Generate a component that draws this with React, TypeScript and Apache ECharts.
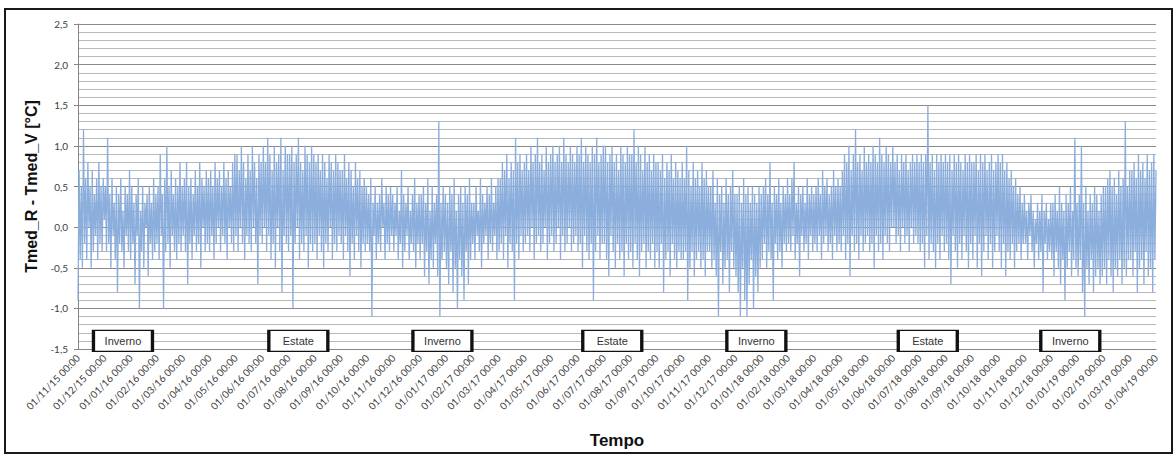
import React, { useEffect, useRef } from "react";
import * as echarts from "echarts";

const tickLabels = [
  "01/11/15 00:00", "01/12/15 00:00", "01/01/16 00:00", "01/02/16 00:00", "01/03/16 00:00",
  "01/04/16 00:00", "01/05/16 00:00", "01/06/16 00:00", "01/07/16 00:00", "01/08/16 00:00",
  "01/09/16 00:00", "01/10/16 00:00", "01/11/16 00:00", "01/12/16 00:00", "01/01/17 00:00",
  "01/02/17 00:00", "01/03/17 00:00", "01/04/17 00:00", "01/05/17 00:00", "01/06/17 00:00",
  "01/07/17 00:00", "01/08/17 00:00", "01/09/17 00:00", "01/10/17 00:00", "01/11/17 00:00",
  "01/12/17 00:00", "01/01/18 00:00", "01/02/18 00:00", "01/03/18 00:00", "01/04/18 00:00",
  "01/05/18 00:00", "01/06/18 00:00", "01/07/18 00:00", "01/08/18 00:00", "01/09/18 00:00",
  "01/10/18 00:00", "01/11/18 00:00", "01/12/18 00:00", "01/01/19 00:00", "01/02/19 00:00",
  "01/03/19 00:00", "01/04/19 00:00",
];

// Tmed_R - Tmed_V [°C], one row per month: Nov 2015 ... Oct 2016
const year1 = [
  [-0.9, 0.7, -0.4, 0.5, -0.5, 1.2, -0.2, 0.6, -0.4, 0.8, 0.0, 0.5, -0.5, 0.7, -0.3, 0.4, -0.1, 0.6, -0.4, 0.8, -0.2, 0.5, -0.3, 0.6],
  [0.1, 0.5, -0.3, 1.1, -0.2, 0.4, -0.5, 0.6, -0.1, 0.3, -0.4, 0.5, -0.8, 0.4, -0.2, 0.6, -0.3, 0.2, -0.5, 0.5, -0.1, 0.4, -0.3, 0.7],
  [-0.4, 0.5, -0.2, 0.3, -0.7, 0.4, -0.1, 0.6, -1.0, 0.2, -0.3, 0.5, -0.5, 0.3, 0.0, 0.4, -0.6, 0.5, -0.2, 0.3, -0.4, 0.6, -0.3, 0.4],
  [-0.2, 0.5, -0.4, 0.9, -0.1, 0.4, -1.0, 0.6, -0.3, 1.0, -0.2, 0.5, -0.5, 0.7, -0.1, 0.4, -0.3, 0.6, -0.4, 0.5, -0.2, 0.8, -0.3, 0.5],
  [-0.1, 0.6, -0.3, 0.8, -0.7, 0.5, -0.2, 0.6, -0.4, 0.4, -0.1, 0.7, -0.3, 0.5, -0.2, 0.8, -0.5, 0.6, 0.0, 0.5, -0.3, 0.7, -0.2, 0.6],
  [-0.3, 0.7, -0.1, 0.5, -0.4, 0.8, -0.2, 0.6, 0.0, 0.7, -0.3, 0.5, -0.1, 0.8, -0.2, 0.6, -0.4, 0.7, 0.0, 0.5, -0.2, 0.8, -0.3, 0.9],
  [-0.1, 0.9, -0.3, 0.7, 0.0, 1.0, -0.2, 0.8, -0.4, 0.6, -0.1, 0.9, -0.2, 0.7, -0.3, 1.0, 0.0, 0.8, -0.2, 0.6, -0.7, 0.9, -0.1, 0.8],
  [-0.2, 1.0, 0.0, 0.8, -0.3, 1.1, -0.1, 0.9, -0.4, 0.7, -0.2, 1.0, -0.5, 0.8, 0.0, 0.9, -0.3, 1.1, -0.8, 0.7, -0.1, 1.0, -0.2, 0.9],
  [-0.3, 0.9, -0.1, 1.0, -1.0, 0.8, -0.2, 0.9, 0.0, 1.1, -0.4, 0.8, -0.2, 0.7, -0.3, 1.0, -0.1, 0.9, -0.5, 0.8, -0.2, 1.0, -0.3, 0.9],
  [-0.2, 0.8, -0.4, 0.9, -0.1, 0.7, -0.3, 0.9, -0.5, 0.8, -0.2, 0.6, -0.3, 0.9, 0.0, 0.8, -0.4, 0.7, -0.2, 0.9, -0.3, 0.8, -0.1, 0.7],
  [-0.2, 0.7, -0.4, 0.9, -0.1, 0.6, -0.3, 0.8, -0.6, 0.7, -0.2, 0.5, -0.4, 0.8, -0.1, 0.6, -0.3, 0.7, -0.5, 0.5, -0.2, 0.6, -0.3, 0.5],
  [-0.2, 0.4, -0.3, 0.6, -1.1, 0.3, -0.1, 0.5, -0.4, 0.3, -0.2, 0.4, -0.3, 0.6, 0.0, 0.3, -0.4, 0.5, -0.2, 0.4, -0.3, 0.5, -0.1, 0.4],
];

// Nov 2016 ... Oct 2017
const year2 = [
  [-0.3, 0.3, -0.1, 0.5, -0.4, 0.2, -0.2, 0.7, -0.5, 0.4, -0.3, 0.3, -0.1, 0.5, -0.4, 0.2, -0.2, 0.4, -0.3, 0.6, -0.5, 0.3, -0.2, 0.4],
  [-0.4, 0.4, -0.2, 0.5, -0.6, 0.3, -0.3, 0.6, -0.7, 0.2, -0.4, 0.5, -0.5, 0.3, -0.2, 0.4, -0.6, 1.3, -1.1, 0.3, -0.4, 0.5, -0.3, 0.4],
  [-0.5, 0.3, -0.7, 0.5, -0.3, 0.4, -0.8, 0.6, -0.5, 0.2, -1.0, 0.4, -0.4, 0.5, -0.6, 0.3, -0.9, 0.5, -0.3, 0.4, -0.7, 0.6, -0.4, 0.3],
  [-0.2, 0.3, -0.4, 0.5, -0.1, 0.2, -0.3, 0.6, -0.5, 0.4, -0.2, 0.3, -0.1, 0.5, -0.4, 0.4, -0.2, 0.6, -0.3, 0.3, -0.1, 0.5, -0.4, 0.6],
  [-0.3, 0.6, -0.2, 0.8, -0.4, 0.7, -0.1, 0.9, -0.5, 0.6, -0.2, 0.8, -0.3, 0.7, -0.9, 1.1, -0.2, 0.8, -0.4, 0.9, -0.1, 0.7, -0.3, 0.8],
  [-0.2, 0.9, -0.1, 0.7, -0.3, 1.0, 0.0, 0.8, -0.4, 0.9, -0.2, 1.1, -0.1, 0.8, -0.3, 0.9, -0.2, 0.7, 0.0, 1.0, -0.4, 0.8, -0.2, 0.9],
  [-0.1, 1.0, -0.3, 0.8, -0.2, 0.9, 0.0, 1.0, -0.4, 0.8, -0.1, 1.1, -0.3, 0.9, -0.2, 0.8, 0.0, 1.0, -0.3, 0.9, -0.2, 0.8, -0.1, 1.0],
  [-0.3, 0.9, -0.2, 1.1, -0.5, 0.8, -0.1, 1.0, -0.3, 0.9, -0.4, 0.8, -0.2, 1.0, -0.9, 0.9, -0.3, 1.1, -0.1, 0.8, -0.4, 0.9, -0.2, 1.0],
  [-0.2, 1.0, -0.4, 0.8, -0.6, 0.9, -0.1, 1.0, -0.3, 0.8, -0.5, 0.9, -0.2, 0.7, -0.4, 1.0, -0.3, 0.9, -0.6, 0.8, -0.2, 1.0, -0.4, 0.9],
  [-0.3, 0.9, -0.5, 1.2, -0.2, 0.8, -0.4, 1.0, -0.6, 0.9, -0.3, 0.7, -0.2, 1.0, -0.5, 0.8, -0.3, 0.9, -0.4, 0.7, -0.2, 0.9, -0.5, 0.8],
  [-0.3, 0.8, -0.5, 0.7, -0.2, 0.9, -0.8, 0.6, -0.4, 0.8, -0.3, 0.7, -0.6, 0.9, -0.2, 0.6, -0.4, 0.8, -0.5, 0.7, -0.3, 0.6, -0.4, 0.8],
  [-0.4, 0.6, -0.3, 1.0, -0.9, 0.7, -0.5, 0.5, -0.3, 0.8, -0.6, 0.6, -0.4, 0.7, -0.3, 0.5, -0.5, 0.8, -0.4, 0.6, -0.6, 0.7, -0.3, 0.5],
];

// Nov 2017 ... Oct 2018
const year3 = [
  [-0.3, 0.5, -0.5, 0.7, -0.4, 0.3, -0.6, 0.6, -1.1, 0.4, -0.3, 0.5, -0.7, 0.3, -0.5, 0.6, -0.4, 0.4, -0.8, 0.5, -0.3, 0.7, -0.5, 0.4],
  [-0.6, 0.4, -0.8, 0.5, -1.1, 0.3, -0.5, 0.6, -0.9, 0.4, -1.1, 0.5, -0.7, 0.3, -0.4, 0.5, -1.0, 0.4, -0.6, 0.3, -0.8, 0.5, -0.5, 0.4],
  [-0.4, 0.5, -0.2, 0.6, -0.5, 0.4, -0.3, 0.8, -0.4, 0.3, -0.9, 0.5, -0.2, 0.4, -0.4, 0.6, -0.3, 0.3, -0.5, 0.5, -0.2, 0.4, -0.3, 0.6],
  [-0.2, 0.4, -0.3, 0.6, -0.1, 0.8, -0.4, 0.3, -0.2, 0.5, -0.6, 0.4, -0.1, 0.5, -0.3, 0.3, -0.2, 0.6, -0.4, 0.4, -0.1, 0.5, -0.3, 0.4],
  [-0.2, 0.5, -0.3, 0.6, -0.1, 0.4, -0.4, 0.7, -0.2, 0.5, -0.1, 0.6, -0.3, 0.4, -0.2, 0.5, -0.4, 0.7, -0.1, 0.5, -0.3, 0.6, -0.2, 0.5],
  [-0.3, 0.7, -0.1, 0.9, -0.4, 0.8, -0.2, 1.0, -0.6, 0.7, -0.1, 0.9, -0.3, 1.2, -0.2, 0.8, -0.4, 0.9, -0.1, 0.7, -0.3, 1.0, -0.2, 0.8],
  [-0.1, 0.9, -0.3, 0.8, -0.2, 1.0, -0.5, 0.9, -0.1, 0.8, -0.3, 1.1, -0.2, 0.9, -0.4, 0.8, -0.1, 1.0, -0.2, 0.9, -0.3, 0.8, 0.0, 1.0],
  [0.0, 0.8, -0.2, 0.9, -0.1, 0.7, -0.3, 0.9, 0.0, 0.8, -0.2, 0.9, -0.1, 0.7, -0.3, 0.8, 0.0, 0.9, -0.2, 0.8, -0.1, 0.9, -0.2, 0.8],
  [-0.3, 0.9, -0.2, 0.8, -0.5, 0.9, -0.1, 1.5, -0.4, 0.8, -0.2, 0.9, -0.3, 0.7, -0.5, 0.9, -0.2, 0.8, -0.4, 0.9, -0.1, 0.8, -0.3, 0.9],
  [-0.2, 0.8, -0.4, 0.9, -0.7, 0.7, -0.1, 0.9, -0.3, 0.8, -0.5, 0.9, -0.2, 0.8, -0.4, 0.7, -0.1, 0.9, -0.3, 0.8, -0.5, 0.9, -0.2, 0.8],
  [-0.4, 0.8, -0.1, 0.9, -0.5, 0.7, -0.2, 0.9, -0.6, 0.8, -0.3, 0.9, -0.1, 0.7, -0.4, 0.8, -0.2, 0.9, -0.5, 0.7, -0.3, 0.8, -0.1, 0.9],
  [-0.3, 0.8, -0.5, 0.9, -0.2, 0.7, -0.6, 0.8, -0.3, 0.6, -0.4, 0.7, -0.2, 0.5, -0.5, 0.6, -0.3, 0.4, -0.2, 0.5, -0.4, 0.3, -0.2, 0.4],
];

// Nov 2018 ... Mar 2019
const year4 = [
  [-0.2, 0.2, -0.4, 0.3, -0.1, 0.4, -0.3, 0.2, -0.5, 0.1, -0.2, 0.3, -0.4, 0.2, -0.3, 0.4, -0.8, 0.2, -0.2, 0.3, -0.4, 0.1, -0.3, 0.3],
  [-0.4, 0.3, -0.6, 0.4, -0.3, 0.2, -0.5, 0.5, -0.7, 0.3, -0.4, 0.2, -0.9, 0.4, -0.5, 0.3, -0.3, 0.5, -0.6, 0.2, -0.4, 1.1, -0.5, 0.3],
  [-0.6, 0.4, -0.4, 1.0, -0.8, 0.3, -1.1, 0.5, -0.5, 0.2, -0.7, 0.4, -0.4, 0.3, -0.8, 0.5, -0.6, 0.4, -0.5, 0.2, -0.7, 0.4, -0.6, 0.5],
  [-0.5, 0.5, -0.7, 0.6, -0.4, 0.7, -0.6, 0.5, -0.8, 0.6, -0.5, 0.4, -0.6, 0.7, -0.4, 0.5, -0.7, 0.6, -0.5, 1.3, -0.6, 0.5, -0.4, 0.7],
  [-0.4, 0.7, -0.6, 0.8, -0.3, 0.6, -0.8, 0.9, -0.5, 0.7, -0.4, 0.8, -0.7, 0.6, -0.3, 0.9, -0.6, 0.7, -0.5, 0.8, -0.8, 0.9, -0.4, 0.7],
];

const seasonNames = ["Inverno", "Estate", "Inverno", "Estate", "Inverno", "Estate", "Inverno"];
const seasonMonthPos = [1.71, 8.38, 13.86, 20.32, 25.8, 32.32, 37.74];
const seasonLevel = -1.4;

const fmtComma = (v: number) => v.toFixed(1).replace(".", ",");

export default function App() {
  const ref = useRef<HTMLDivElement>(null);

  useEffect(() => {
    document.body.style.margin = "0";
    if (!ref.current) return;
    const chart = echarts.init(ref.current, undefined, { renderer: "svg" });

    const months = [...year1, ...year2, ...year3, ...year4];
    const perMonth = months[0].length;
    const total = months.length * perMonth;
    const span = months.length;
    const lineData: number[][] = [];
    months.forEach((row, m) => {
      row.forEach((v, i) => {
        const k = m * perMonth + i;
        lineData.push([(k * span) / (total - 1), v]);
      });
    });

    const boxData = seasonNames.map((n, i) => ({ name: n, value: [seasonMonthPos[i], seasonLevel] }));

    chart.setOption({
      animation: false,
      backgroundColor: "#ffffff",
      grid: { left: 78, right: 20, top: 24, bottom: 108, containLabel: false },
      xAxis: {
        type: "value",
        min: 0,
        max: tickLabels.length - 1,
        interval: 1,
        name: "Tempo",
        nameLocation: "middle",
        nameGap: 83,
        nameTextStyle: { fontFamily: "Liberation Sans", fontWeight: "bold", fontSize: 17, color: "#111" },
        axisLine: { show: true, onZero: false, lineStyle: { color: "#868686" } },
        axisTick: { show: false },
        splitLine: { show: false },
        axisLabel: {
          rotate: 46,
          fontSize: 10,
          fontFamily: "Lato",
          color: "#404040",
          margin: 7,
          formatter: (v: number) => tickLabels[Math.round(v)] ?? "",
        },
      },
      yAxis: {
        type: "value",
        min: -1.5,
        max: 2.5,
        interval: 0.5,
        name: "Tmed_R - Tmed_V [°C]",
        nameLocation: "middle",
        nameGap: 34,
        nameTextStyle: { fontFamily: "Liberation Sans", fontWeight: "bold", fontSize: 16, color: "#111" },
        axisLine: { show: true, lineStyle: { color: "#868686" } },
        axisTick: { show: true, length: 4, lineStyle: { color: "#868686" } },
        axisLabel: {
          fontSize: 10,
          fontFamily: "Lato",
          color: "#404040",
          margin: 10,
          formatter: (v: number) => fmtComma(v),
        },
        splitLine: { show: true, lineStyle: { color: "#8a8a8a", width: 1 } },
        minorTick: { show: false, splitNumber: 5 },
        minorSplitLine: { show: true, lineStyle: { color: "#b8b8b8", width: 1 } },
      },
      series: [
        {
          type: "line",
          data: lineData,
          symbol: "none",
          lineStyle: { color: "#8caedc", width: 1.3 },
          z: 2,
        },
        {
          type: "scatter",
          data: boxData,
          symbol: "rect",
          symbolSize: [59, 21],
          clip: false,
          itemStyle: { color: "#ffffff", borderColor: "#111111", borderWidth: 2, opacity: 1 },
          label: {
            show: true,
            position: "inside",
            formatter: (p: any) => p.name,
            fontFamily: "Liberation Sans",
            fontSize: 11,
            color: "#333333",
          },
          z: 5,
        },
      ],
      graphic: [
        {
          type: "rect",
          shape: { x: 5, y: 9, width: 1167, height: 444 },
          style: { fill: "none", stroke: "#1a1a1a", lineWidth: 2 },
          silent: true,
          z: 10,
        },
      ],
    });

    return () => chart.dispose();
  }, []);

  return <div ref={ref} style={{ width: 1176, height: 457 }} />;
}
